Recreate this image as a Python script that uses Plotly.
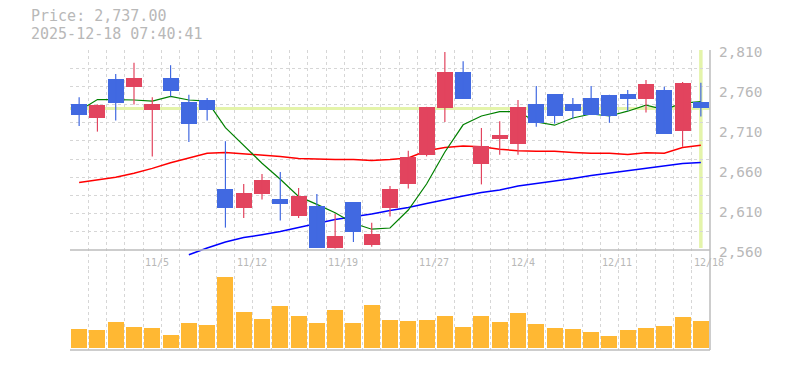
import plotly.graph_objects as go

# ---- data ----
dates = ['10/29', '10/30', '10/31', '11/4', '11/5', '11/6', '11/7', '11/10', '11/11', '11/12',
         '11/13', '11/14', '11/17', '11/18', '11/19', '11/20', '11/21', '11/25', '11/26', '11/27',
         '11/28', '12/1', '12/2', '12/3', '12/4', '12/5', '12/8', '12/9', '12/10', '12/11',
         '12/12', '12/15', '12/16', '12/17', '12/18']
opens = [2742.5, 2725, 2774, 2764, 2735, 2775, 2745, 2747.5, 2636, 2612,
         2630, 2624, 2602, 2615, 2563, 2620, 2566, 2612, 2643, 2679,
         2737.5, 2782.5, 2667, 2699, 2693, 2742.5, 2755, 2742.5, 2750, 2754,
         2755, 2749, 2760, 2709, 2745]
highs = [2751, 2742, 2780, 2794, 2751, 2791, 2754, 2750, 2696, 2642.5,
         2655, 2657.5, 2637.5, 2630, 2605, 2620, 2594, 2640, 2684, 2739,
         2807.5, 2796, 2712.5, 2721, 2747.5, 2765, 2755, 2750, 2765, 2754,
         2760, 2772.5, 2764, 2770, 2769]
lows = [2715, 2708, 2722, 2742, 2677, 2752, 2695, 2722, 2588, 2600,
        2623, 2597, 2600, 2563, 2562, 2570, 2564, 2602, 2637, 2677,
        2720, 2749, 2642, 2679, 2679, 2714, 2718, 2724, 2729, 2719,
        2734, 2732, 2705, 2689, 2727]
closes = [2729, 2741, 2744, 2775, 2742.5, 2759, 2717, 2735, 2612, 2631,
          2647.5, 2617, 2627.5, 2563, 2577.5, 2582, 2580, 2636, 2676, 2739,
          2782.5, 2749, 2690, 2704, 2739, 2719, 2728, 2734, 2729, 2727,
          2749, 2767.5, 2705, 2769, 2737]
ma_short = [2734, 2748, 2748, 2747.5, 2746, 2752, 2747.5, 2746, 2713, 2691,
            2668.5, 2648.5, 2627, 2617, 2606.5, 2593.5, 2586, 2587.5, 2610, 2642.5,
            2682.5, 2716.5, 2727.5, 2733, 2733, 2720, 2716, 2725, 2730, 2727.5,
            2733.5, 2741, 2735.5, 2743.5, 2745.5]
ma_mid = [2644.5, 2647.5, 2651, 2656, 2662, 2669, 2675, 2681, 2682, 2680.5,
          2678.5, 2677, 2674.5, 2673.5, 2673, 2673, 2672, 2673, 2675, 2684,
          2688, 2690, 2689, 2686, 2684, 2683.5, 2683.5, 2682, 2681, 2681,
          2679.5, 2681.5, 2681, 2688, 2691]
ma_long = [None, None, None, None, None, None, 2554, 2562.5, 2570, 2575.5,
           2579, 2583, 2588, 2593, 2598, 2601.5, 2605, 2609.5, 2613, 2618,
           2623, 2627.5, 2632, 2635, 2640, 2643, 2646.5, 2649.5, 2653, 2656,
           2659.5, 2662, 2665, 2668, 2669.5]
volume = [18700, 17700, 25700, 20700, 19700, 12700, 24700, 22700, 70700, 35700,
          28700, 41700, 31700, 24700, 37700, 24700, 42700, 27700, 26700, 27700,
          31700, 20700, 31700, 25700, 34700, 23700, 19700, 18700, 15700, 11700,
          17700, 19700, 21700, 30700, 26700]
tick_labels = ['11/5', '11/12', '11/19', '11/27', '12/4', '12/11', '12/18']
price_ticks = [2560, 2610, 2660, 2710, 2760, 2810]
last_price = 2737.00
timestamp = '2025-12-18 07:40:41'

# ---- styles ----
UP = '#e2445e'
DOWN = '#4169e1'
GRID = '#d6d6d6'
AXIS = '#bdbdbd'
TXT = '#b8b8b8'
FONT = 'DejaVu Sans Mono'
HILITE = '#e4f4aa'

n = len(dates)
xs = list(range(n))
pmin, pmax = price_ticks[0], price_ticks[-1]
ncell = 11
hgrid = [pmin + k * (pmax - pmin) / ncell for k in range(1, ncell + 1)]

fig = go.Figure()

# moving averages (main price axis, drawn beneath candles)
fig.add_trace(go.Scatter(x=xs, y=ma_mid, mode='lines', line=dict(color='#ff0000', width=1.5),
                         xaxis='x', yaxis='y', hoverinfo='skip'))
fig.add_trace(go.Scatter(x=xs, y=ma_long, mode='lines', line=dict(color='#0000ff', width=1.5),
                         xaxis='x', yaxis='y', hoverinfo='skip'))
fig.add_trace(go.Scatter(x=xs, y=ma_short, mode='lines', line=dict(color='#008000', width=1.2),
                         xaxis='x', yaxis='y', hoverinfo='skip'))

# candles on overlay axis (drawn above the lines)
up_x, up_y, dn_x, dn_y = [], [], [], []
body_base, body_len, body_col = [], [], []
for i in range(n):
    o, h, l, c = opens[i], highs[i], lows[i], closes[i]
    is_up = c >= o
    if is_up:
        up_x += [i, i, None]; up_y += [l, h, None]
    else:
        dn_x += [i, i, None]; dn_y += [l, h, None]
    body_base.append(min(o, c))
    body_len.append(max(abs(c - o), 1.0))
    body_col.append(UP if is_up else DOWN)

fig.add_trace(go.Scatter(x=up_x, y=up_y, mode='lines', line=dict(color=UP, width=1.2),
                         xaxis='x', yaxis='y3', hoverinfo='skip'))
fig.add_trace(go.Scatter(x=dn_x, y=dn_y, mode='lines', line=dict(color=DOWN, width=1.2),
                         xaxis='x', yaxis='y3', hoverinfo='skip'))
fig.add_trace(go.Bar(x=xs, y=body_len, base=body_base, width=0.875,
                     marker=dict(color=body_col, line=dict(width=0)),
                     xaxis='x', yaxis='y3', hoverinfo='skip'))

# volume
fig.add_trace(go.Bar(x=xs, y=volume, width=0.875, marker=dict(color='#ffb833', line=dict(width=0)),
                     xaxis='x', yaxis='y2', hoverinfo='skip'))

# page body has an 8px default margin: the figure is shrunk so the plot area
# lands at x 70..710, y 50..350 of the window
BODY = 8
vol_dom = 80 / 300
annotations = [
    dict(text=f'Price: {last_price:,.2f}', xref='paper', yref='paper', x=(29 - 70) / 640,
         y=(350 - 16) / 300, xanchor='left', yanchor='middle', showarrow=False,
         font=dict(family=FONT, size=15, color=TXT)),
    dict(text=timestamp, xref='paper', yref='paper', x=(29 - 70) / 640,
         y=(350 - 34) / 300, xanchor='left', yanchor='middle', showarrow=False,
         font=dict(family=FONT, size=15, color=TXT)),
]
for lbl in tick_labels:
    i = dates.index(lbl)
    annotations.append(dict(text=lbl, xref='x', yref='paper', x=i - 0.5, y=(350 - 262) / 300,
                            xanchor='left', yanchor='middle', showarrow=False,
                            font=dict(family=FONT, size=10, color=TXT)))

shapes = [
    dict(type='line', xref='paper', yref='y', x0=0, x1=1, y0=last_price, y1=last_price,
         line=dict(color=HILITE, width=3), layer='between'),
    dict(type='line', xref='x', yref='paper', x0=n - 1, x1=n - 1, y0=(350 - 248) / 300, y1=1,
         line=dict(color=HILITE, width=3.5), layer='between'),
    dict(type='line', xref='paper', yref='y', x0=0, x1=1, y0=pmin, y1=pmin,
         line=dict(color=AXIS, width=1.5), layer='above'),
    dict(type='line', xref='paper', yref='paper', x0=0, x1=1, y0=0, y1=0,
         line=dict(color=AXIS, width=1.5), layer='above'),
    dict(type='line', xref='paper', yref='paper', x0=1, x1=1, y0=0, y1=1,
         line=dict(color=AXIS, width=1.5), layer='above'),
]

span_px = 220
units = (pmax - pmin) * span_px / 200
prange = [pmax - units, pmax]

fig.update_layout(
    width=785 - BODY, height=370 - BODY,
    margin=dict(l=70 - BODY, r=75, t=50 - BODY, b=20),
    paper_bgcolor='white', plot_bgcolor='white',
    showlegend=False, bargap=0,
    xaxis=dict(range=[-0.5, n - 0.5], tickmode='array', tickvals=[i - 0.5 for i in xs],
               showticklabels=False, ticks='', showgrid=True, gridcolor=GRID, griddash='3px,3px',
               gridwidth=1, zeroline=False, showline=False, anchor='y2', fixedrange=True),
    yaxis=dict(domain=[vol_dom, 1], range=prange, tickmode='array', tickvals=hgrid,
               showticklabels=False, ticks='', showgrid=True, gridcolor=GRID, griddash='3px,3px',
               gridwidth=1, zeroline=False, showline=False, fixedrange=True),
    yaxis3=dict(overlaying='y', side='right', anchor='x', range=prange, tickmode='array',
                tickvals=price_ticks, tickformat=',d', showgrid=False, zeroline=False,
                showline=False, ticks='', ticklabelstandoff=8, ticklabelshift=2,
                tickfont=dict(family=FONT, size=14.4, color=TXT), fixedrange=True),
    yaxis2=dict(domain=[0, vol_dom], range=[-2300, 77700], showgrid=False, showticklabels=False,
                zeroline=False, showline=False, ticks='', fixedrange=True),
    annotations=annotations, shapes=shapes,
)

fig.write_html('out.html')
